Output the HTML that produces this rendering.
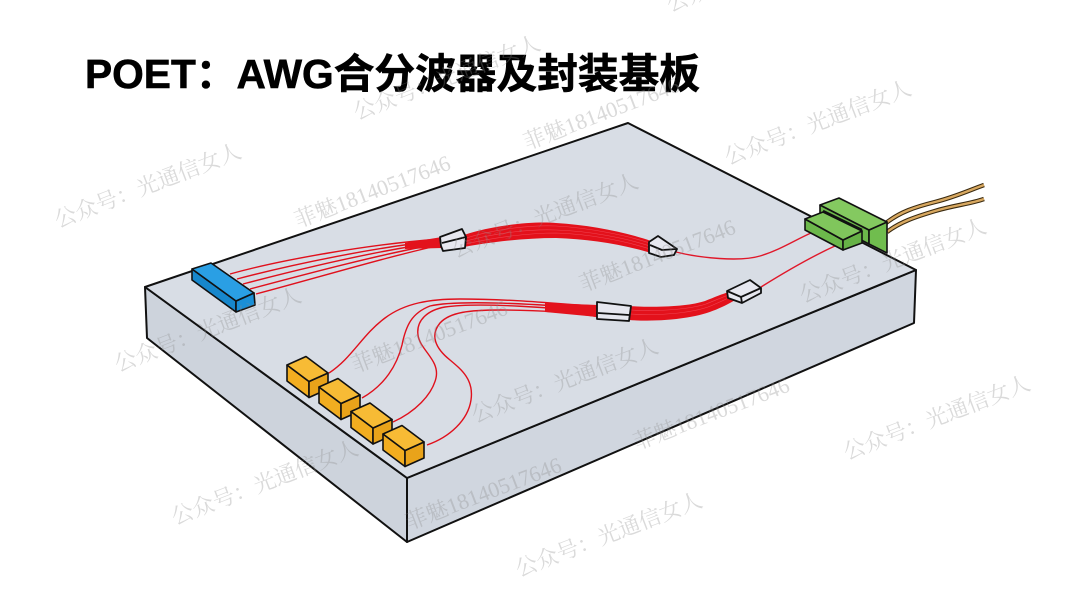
<!DOCTYPE html>
<html>
<head>
<meta charset="utf-8">
<style>
html,body{margin:0;padding:0;background:#fff;}
svg{display:block;}
</style>
</head>
<body>
<svg width="1080" height="607" viewBox="0 0 1080 607" xmlns="http://www.w3.org/2000/svg">
<rect width="1080" height="607" fill="#ffffff"/>

<!-- Title -->
<text x="85" y="88" textLength="615" lengthAdjust="spacingAndGlyphs" font-family="'Liberation Sans','Noto Sans CJK SC',sans-serif" font-weight="bold" font-size="41" fill="#000" stroke="#000" stroke-width="0.6">POET：AWG合分波器及封装基板</text>

<!-- Board -->
<g stroke="#111" stroke-width="2" stroke-linejoin="round">
  <polygon points="145,287 407,478 407,542 147,338" fill="#cdd3dc"/>
  <polygon points="407,478 916,270 914,323 407,542" fill="#d0d6df"/>
  <polygon points="145,287 628,123 916,270 407,478" fill="#d8dde5"/>
</g>

<!-- Blue block -->
<g stroke="#111" stroke-width="1.6" stroke-linejoin="round">
  <polygon points="192,269 236,301 236,312 192,280" fill="#1787cc"/>
  <polygon points="236,301 254,293 255,305 236,312" fill="#1a8fd6"/>
  <polygon points="192,269 211,263 254,293 236,301" fill="#2a9fe4"/>
</g>

<!-- Fibers blue -> chip1 -->
<g fill="none" stroke="#e0101c" stroke-width="1.4">
  <path d="M230,274 C280,260 370,244 441,239"/>
  <path d="M237,279 C290,265 375,247 441,240.5"/>
  <path d="M243,284 C300,269 380,250 441,242"/>
  <path d="M250,289 C310,273 385,253 441,243.5"/>
  <path d="M256,294 C320,277 390,256 441,245"/>
</g>
<path d="M405,243 L442,237 L442,248 L405,249 Z" fill="#e3121c"/>

<!-- Top bundle chip1 -> chip2 -->
<path d="M464,235 C490,226 530,221 556,223 C590,225 625,232 651,241 L651,253 C625,245 590,239 556,238 C525,238 490,242 464,247 Z" fill="#e3111b"/>
<g fill="none" stroke="#f25060" stroke-width="0.6" opacity="0.8">
  <path d="M466,238 C495,229 530,225 556,226 C590,228 625,235 650,243"/>
  <path d="M466,241 C495,233 530,229 556,230 C590,231 625,238 650,246"/>
  <path d="M466,244 C495,237 530,233 556,233 C590,234 625,241 650,249"/>
</g>

<!-- chip2 -> green -->
<path d="M676,252 C700,258 740,262 760,256 C780,250 795,240 811,233" fill="none" stroke="#e0182a" stroke-width="1.4"/>

<!-- Fibers orange boxes -> chip3 -->
<g fill="none" stroke="#e0101c" stroke-width="1.4">
  <path d="M329,373 C352,358 362,335 385,318 C405,303 430,299 460,299 C520,299 565,305 597,306"/>
  <path d="M362,398 C385,385 397,365 402,345 C406,325 412,313 430,306 C455,300 530,303 597,309.5"/>
  <path d="M393,422 C415,412 432,395 436,378 C440,360 420,350 418,335 C416,320 428,310 445,307 C480,302 560,308 597,313"/>
  <path d="M427,445 C450,437 468,420 471,400 C474,380 462,370 450,360 C435,348 430,335 440,323 C450,312 470,310 500,310 C540,310 575,313 597,316.5"/>
</g>
<path d="M545,303 L598,305 L598,317 L545,312 Z" fill="#e3121c"/>

<!-- Bundle chip3 -> chip4 -->
<path d="M629,306 C660,308 690,306 705,301 C715,297 722,294 729,292 L737,299 C725,306 710,314 687,317.5 C665,321 645,321 629,320 Z" fill="#e3111b"/>
<g fill="none" stroke="#f25060" stroke-width="0.6" opacity="0.8">
  <path d="M630,310 C660,312 690,309 706,304 C716,300 723,297 731,294"/>
  <path d="M630,314 C660,316 690,313 708,307 C718,303 726,299 733,296"/>
</g>

<!-- chip4 -> green -->
<path d="M761,287 C785,272 815,255 837,245" fill="none" stroke="#e0182a" stroke-width="1.4"/>

<!-- Chips -->
<g stroke="#111" stroke-width="1.8" stroke-linejoin="round" fill="#e6e7ef">
  <polygon points="440,237 462,229 466,237 465,248 443,251 441,246"/>
  <polyline points="442,243 466,237" fill="none"/>
  <polygon points="649,242 658,236 677,249 674,255 661,257 649,253"/>
  <polyline points="650,245 662,250 677,249" fill="none"/>
  <polygon points="597,302 631,306 629,321 597,319"/>
  <polyline points="598,313 629,315" fill="none"/>
  <polygon points="727,291 750,280 761,288 761,293 742,303 728,298"/>
  <polyline points="727,291 741,297 761,288" fill="none"/>
  <polyline points="741,297 742,303" fill="none"/>
</g>

<!-- Orange boxes -->
<g stroke="#111" stroke-width="1.6" stroke-linejoin="round">
  <g transform="translate(287,365)">
    <polygon points="0,0 22,16.5 22,32.5 0,16" fill="#f2ad20"/>
    <polygon points="22,16.5 41,8 41,24 22,32.5" fill="#e9a31a"/>
    <polygon points="0,0 19,-8.5 41,8 22,16.5" fill="#f7bb35"/>
  </g>
  <g transform="translate(319,387)">
    <polygon points="0,0 22,16.5 22,32.5 0,16" fill="#f2ad20"/>
    <polygon points="22,16.5 41,8 41,24 22,32.5" fill="#e9a31a"/>
    <polygon points="0,0 19,-8.5 41,8 22,16.5" fill="#f7bb35"/>
  </g>
  <g transform="translate(351,411.5)">
    <polygon points="0,0 22,16.5 22,32.5 0,16" fill="#f2ad20"/>
    <polygon points="22,16.5 41,8 41,24 22,32.5" fill="#e9a31a"/>
    <polygon points="0,0 19,-8.5 41,8 22,16.5" fill="#f7bb35"/>
  </g>
  <g transform="translate(383,434)">
    <polygon points="0,0 22,16.5 22,32.5 0,16" fill="#f2ad20"/>
    <polygon points="22,16.5 41,8 41,24 22,32.5" fill="#e9a31a"/>
    <polygon points="0,0 19,-8.5 41,8 22,16.5" fill="#f7bb35"/>
  </g>
</g>

<!-- Pigtails -->
<g fill="none" stroke-linecap="butt">
  <path d="M886,223 C900,212 915,207 935,202 C955,197 970,190 984,185" stroke="#3a2a10" stroke-width="4.5"/>
  <path d="M886,223 C900,212 915,207 935,202 C955,197 970,190 984,185" stroke="#d8a860" stroke-width="2.3"/>
  <path d="M887,232 C900,222 915,217 935,211 C955,205 970,204 984,199" stroke="#3a2a10" stroke-width="4.5"/>
  <path d="M887,232 C900,222 915,217 935,211 C955,205 970,204 984,199" stroke="#d8a860" stroke-width="2.3"/>
</g>

<!-- Green connector -->
<g stroke="#111" stroke-width="1.6" stroke-linejoin="round">
  <polygon points="820,205 869,230 869,244 820,219" fill="#6cb84b"/>
  <polygon points="869,230 887,222 887,253 869,244" fill="#70bd4e"/>
  <polygon points="820,205 839,198 887,222 869,230" fill="#84c960"/>
  <polygon points="805,230 843,250 843,240 805,219" fill="#6cb84b"/>
  <polygon points="843,240 862,231 862,243 843,250" fill="#66b246"/>
  <polygon points="805,219 823,212 862,231 843,240" fill="#80c65c"/>
  <line x1="823" y1="211" x2="862" y2="230" stroke-width="2.4"/>
</g>

<!-- Watermarks -->
<g font-family="'Liberation Serif','Noto Serif CJK SC',serif" font-size="22" fill="#8a8a8a" opacity="0.32">
  <text x="58" y="228" transform="rotate(-21 58 228)">公众号：光通信女人</text>
  <text x="298" y="228" transform="rotate(-21 298 228)">菲魅18140517646</text>
  <text x="357" y="120" transform="rotate(-21 357 120)">公众号：光通信女人</text>
  <text x="527" y="150" transform="rotate(-21 527 150)">菲魅18140517646</text>
  <text x="728" y="165" transform="rotate(-21 728 165)">公众号：光通信女人</text>
  <text x="670" y="12" transform="rotate(-21 670 12)">公众号：光通信女人</text>
  <text x="455" y="258" transform="rotate(-21 455 258)">公众号：光通信女人</text>
  <text x="118" y="372" transform="rotate(-21 118 372)">公众号：光通信女人</text>
  <text x="355" y="373" transform="rotate(-21 355 373)">菲魅18140517646</text>
  <text x="583" y="292" transform="rotate(-21 583 292)">菲魅18140517646</text>
  <text x="803" y="303" transform="rotate(-21 803 303)">公众号：光通信女人</text>
  <text x="475" y="423" transform="rotate(-21 475 423)">公众号：光通信女人</text>
  <text x="637" y="450" transform="rotate(-21 637 450)">菲魅18140517646</text>
  <text x="847" y="460" transform="rotate(-21 847 460)">公众号：光通信女人</text>
  <text x="175" y="525" transform="rotate(-21 175 525)">公众号：光通信女人</text>
  <text x="409" y="530" transform="rotate(-21 409 530)">菲魅18140517646</text>
  <text x="519" y="577" transform="rotate(-21 519 577)">公众号：光通信女人</text>
</g>
</svg>
</body>
</html>
